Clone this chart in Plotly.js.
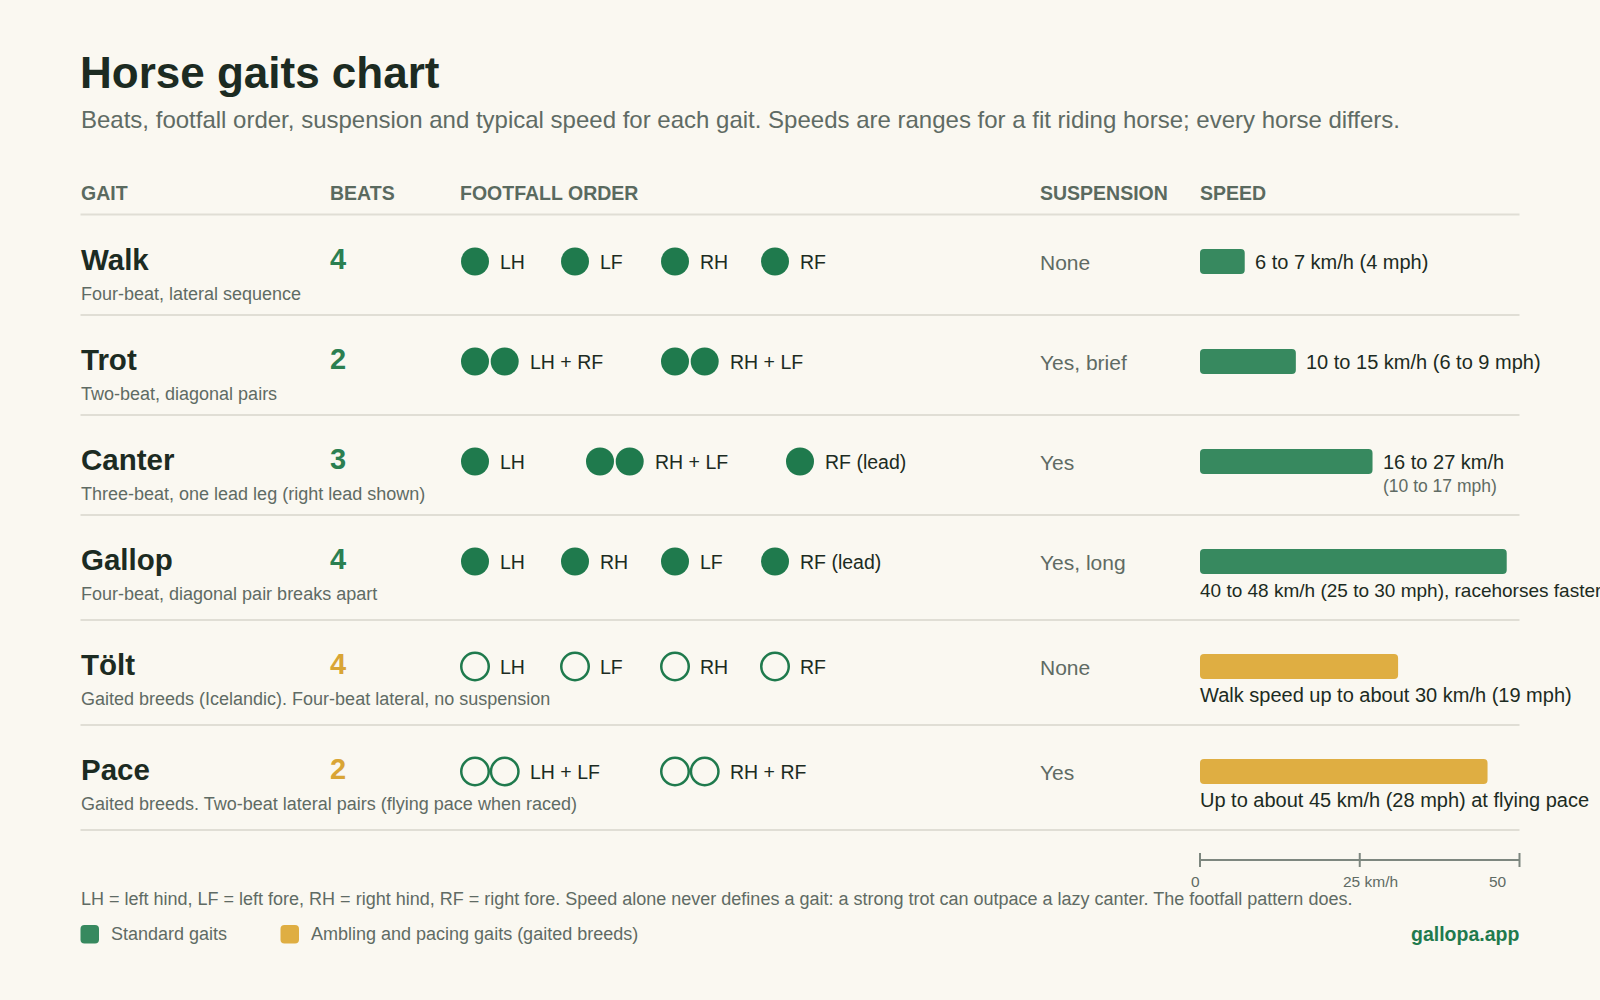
<!DOCTYPE html>
<html>
<head>
<meta charset="utf-8">
<script src="https://cdn.plot.ly/plotly-3.0.1.min.js"></script>
<style>
  html, body { margin: 0; padding: 0; background: #faf8f1; }
  #chart { width: 1600px; height: 1000px; }
</style>
</head>
<body>
<div id="chart"></div>
<script>
// --- data ---
const gaits = ['Walk', 'Trot', 'Canter', 'Gallop', 'Tölt', 'Pace'];
const gaitNotes = [
  'Four-beat, lateral sequence',
  'Two-beat, diagonal pairs',
  'Three-beat, one lead leg (right lead shown)',
  'Four-beat, diagonal pair breaks apart',
  'Gaited breeds (Icelandic). Four-beat lateral, no suspension',
  'Gaited breeds. Two-beat lateral pairs (flying pace when raced)'
];
const beats = [4, 2, 3, 4, 4, 2];
const footfalls = [
  ['LH', 'LF', 'RH', 'RF'],
  ['LH + RF', 'RH + LF'],
  ['LH', 'RH + LF', 'RF (lead)'],
  ['LH', 'RH', 'LF', 'RF (lead)'],
  ['LH', 'LF', 'RH', 'RF'],
  ['LH + LF', 'RH + RF']
];
const suspension = ['None', 'Yes, brief', 'Yes', 'Yes, long', 'None', 'Yes'];
const speedMax = [7, 15, 27, 48, 31, 45];
const speedLabels = [
  '6 to 7 km/h (4 mph)',
  '10 to 15 km/h (6 to 9 mph)',
  '16 to 27 km/h',
  '40 to 48 km/h (25 to 30 mph), racehorses faster',
  'Walk speed up to about 30 km/h (19 mph)',
  'Up to about 45 km/h (28 mph) at flying pace'
];
const speedSubLabels = ['', '', '(10 to 17 mph)', '', '', ''];
const gaitGroup = ['standard', 'standard', 'standard', 'standard', 'gaited', 'gaited'];
const speedTicks = [0, 25, 50];
const speedTickText = ['0', '25 km/h', '50'];

// --- layout helpers (pixel positions) ---
const FONT = '"Liberation Sans", Arial, Helvetica, sans-serif';
const colors = {
  standard: '#37895f', gaited: '#dfae42',
  dot: '#1f7a4d', beatsStd: '#2b7f51', beatsGaited: '#d9a535',
  ink: '#1c2b22', muted: '#5f6b64', head: '#5a6a5f', rule: '#e0ded5', axis: '#7d877f'
};
const colX = { gait: 79.5, beats: 328.5, foot: 475, susp: 1039, speed: 1200, right: 1519.5 };
const footSlots = [[0, 100, 200, 300], [0, 200], [0, 125, 325], [0, 100, 200, 300], [0, 100, 200, 300], [0, 200]];
const labelBelow = [false, false, false, true, true, true];
const speedLabelSize = [20, 20, 20, 19, 20, 20];
const pairStep = 29.7;

const rowTops = [];
let yy = 214;
gaits.forEach((g, i) => { rowTops.push(yy); yy += labelBelow[i] ? 105 : 100; });
const tableBottom = yy;

function txt(text, x, y, size, color, opts = {}) {
  return Object.assign({
    text, x, y, xref: 'x', yref: 'y', showarrow: false,
    xanchor: 'left', yanchor: 'middle', borderpad: 0,
    font: { family: FONT, size, color, weight: opts.bold ? 700 : 400 }
  }, opts.extra || {});
}

function roundRect(x0, y0, x1, y1, r) {
  return `M ${x0 + r},${y0} L ${x1 - r},${y0} Q ${x1},${y0} ${x1},${y0 + r} ` +
    `L ${x1},${y1 - r} Q ${x1},${y1} ${x1 - r},${y1} L ${x0 + r},${y1} ` +
    `Q ${x0},${y1} ${x0},${y1 - r} L ${x0},${y0 + r} Q ${x0},${y0} ${x0 + r},${y0} Z`;
}

function rule(y) {
  return { type: 'line', xref: 'x', yref: 'y', x0: 80.5, x1: colX.right, y0: y, y1: y, line: { color: colors.rule, width: 2 } };
}

const annotations = [];
const shapes = [];

// subtitle
annotations.push(txt('Beats, footfall order, suspension and typical speed for each gait. Speeds are ranges for a fit riding horse; every horse differs.',
  colX.gait, 119.5, 24, colors.muted));

// header
[['GAIT', colX.gait], ['BEATS', colX.beats], ['FOOTFALL ORDER', colX.foot - 16], ['SUSPENSION', colX.susp], ['SPEED', colX.speed - 1]]
  .forEach(([t, x]) => annotations.push(txt(t, x, 193, 19.5, colors.head, { bold: true })));
shapes.push(rule(214.5));

// footfall marker collections
const fillX = [], fillY = [], openX = [], openY = [];

gaits.forEach((g, i) => {
  const top = rowTops[i];
  const std = gaitGroup[i] === 'standard';
  annotations.push(txt(g, colX.gait, top + 45, 29.5, colors.ink, { bold: true }));
  annotations.push(txt(gaitNotes[i], colX.gait, top + 80, 18, colors.muted));
  annotations.push(txt(String(beats[i]), colX.beats, top + 45, 29, std ? colors.beatsStd : colors.beatsGaited, { bold: true }));
  annotations.push(txt(suspension[i], colX.susp, top + 48, 21, colors.muted));

  footfalls[i].forEach((lab, k) => {
    const n = lab.split('+').length;
    const x0 = colX.foot + footSlots[i][k];
    for (let j = 0; j < n; j++) {
      (std ? fillX : openX).push(x0 + j * pairStep);
      (std ? fillY : openY).push(top + 47.5);
    }
    annotations.push(txt(lab, x0 + (n - 1) * pairStep + 24, top + 48, 19.5, colors.ink));
  });

  // speed labels on the speed scale
  if (labelBelow[i]) {
    annotations.push(Object.assign(txt(speedLabels[i], 0, top + 76, speedLabelSize[i], colors.ink), { xref: 'x2', xshift: -1 }));
  } else {
    annotations.push(Object.assign(txt(speedLabels[i], speedMax[i], top + 47.5, speedLabelSize[i], colors.ink), { xref: 'x2', xshift: 9 }));
    if (speedSubLabels[i]) {
      annotations.push(Object.assign(txt(speedSubLabels[i], speedMax[i], top + 72, 17.5, colors.muted), { xref: 'x2', xshift: 9 }));
    }
  }

  const bottom = i < gaits.length - 1 ? rowTops[i + 1] : tableBottom;
  shapes.push(rule(bottom + 1));
});

// speed axis labels
const tickShift = [1, -17.5, -12];
const tickAnchor = ['right', 'left', 'right'];
speedTicks.forEach((t, k) => {
  annotations.push(Object.assign(txt(speedTickText[k], t, 881, 15.5, colors.muted),
    { xref: 'x2', xanchor: tickAnchor[k], xshift: tickShift[k] }));
});

// footnote and legend
annotations.push(txt('LH = left hind, LF = left fore, RH = right hind, RF = right fore. Speed alone never defines a gait: a strong trot can outpace a lazy canter. The footfall pattern does.',
  colX.gait, 899, 18, colors.muted));
shapes.push({ type: 'path', xref: 'x', yref: 'y', path: roundRect(80.5, 925, 99, 943.5, 4), fillcolor: colors.standard, line: { width: 0 } });
shapes.push({ type: 'path', xref: 'x', yref: 'y', path: roundRect(280.5, 925, 299, 943.5, 4), fillcolor: colors.gaited, line: { width: 0 } });
annotations.push(txt('Standard gaits', 109.5, 934, 18, colors.muted));
annotations.push(txt('Ambling and pacing gaits (gaited breeds)', 309.5, 934, 18, colors.muted));
annotations.push(txt('gallopa.app', colX.right, 934, 19.5, colors.dot, { bold: true, extra: { xanchor: 'right' } }));

const traces = [
  {
    type: 'bar', orientation: 'h',
    x: speedMax, y: rowTops.map(t => t + 47.5), base: 0, width: 25,
    marker: { color: gaitGroup.map(g => colors[g]), cornerradius: 4, line: { width: 0 } },
    xaxis: 'x2', yaxis: 'y', hoverinfo: 'skip', showlegend: false
  },
  {
    type: 'scatter', mode: 'markers', x: fillX, y: fillY,
    marker: { symbol: 'circle', size: 28, color: colors.dot, line: { width: 0 } },
    xaxis: 'x', yaxis: 'y', hoverinfo: 'skip', showlegend: false
  },
  {
    type: 'scatter', mode: 'markers', x: openX, y: openY,
    marker: { symbol: 'circle-open', size: 27.5, color: colors.dot, line: { width: 2.5, color: colors.dot } },
    xaxis: 'x', yaxis: 'y', hoverinfo: 'skip', showlegend: false
  },
  {
    type: 'scatter', mode: 'lines', x: [speedTicks[0], speedTicks[speedTicks.length - 1]], y: [860, 860],
    line: { color: colors.axis, width: 2 }, cliponaxis: false,
    xaxis: 'x2', yaxis: 'y', hoverinfo: 'skip', showlegend: false
  },
  {
    type: 'scatter', mode: 'markers', x: speedTicks, y: speedTicks.map(() => 860),
    marker: { symbol: 'line-ns', size: 10, line: { width: 2, color: colors.axis } }, cliponaxis: false,
    xaxis: 'x2', yaxis: 'y', hoverinfo: 'skip', showlegend: false
  }
];

const layout = {
  width: 1600, height: 1000,
  margin: { t: 0, r: 0, b: 0, l: 0 },
  paper_bgcolor: '#faf8f1', plot_bgcolor: 'rgba(0,0,0,0)',
  font: { family: FONT },
  title: {
    text: 'Horse gaits chart', xref: 'container', yref: 'container',
    x: 80 / 1600, xanchor: 'left', y: 1 - 72.5 / 1000, yanchor: 'middle',
    font: { family: FONT, size: 44, color: colors.ink, weight: 700 }
  },
  showlegend: false,
  hovermode: false,
  xaxis: { range: [0, 1600], domain: [0, 1], visible: false, fixedrange: true },
  yaxis: { range: [1000, 0], domain: [0, 1], visible: false, fixedrange: true },
  xaxis2: {
    range: [0, 50], domain: [colX.speed / 1600, colX.right / 1600],
    anchor: 'y', visible: false, fixedrange: true
  },
  shapes, annotations
};

Plotly.newPlot('chart', traces, layout, { displayModeBar: false, staticPlot: true });
</script>
</body>
</html>
